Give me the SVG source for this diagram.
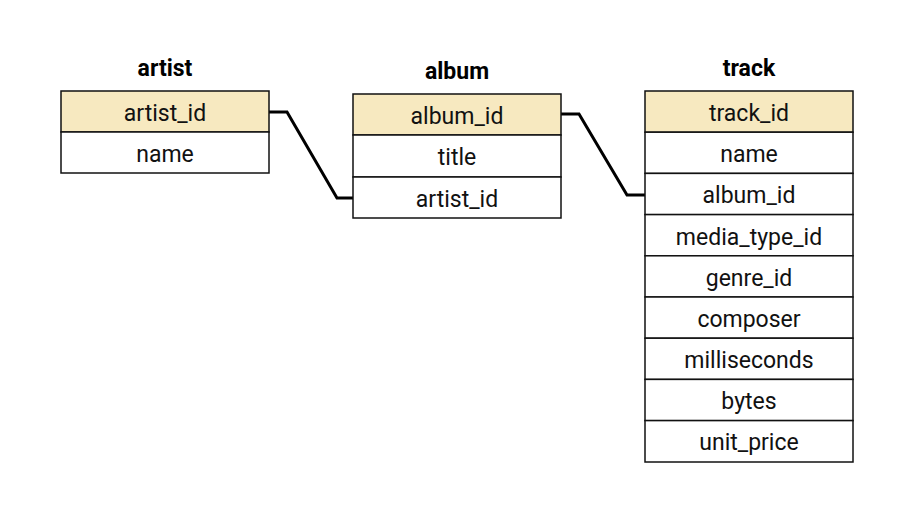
<svg xmlns="http://www.w3.org/2000/svg" width="904" height="512" viewBox="0 0 904 512">
<style>
.t{font-family:Roboto,"Liberation Sans",sans-serif;font-size:23px;fill:#111;text-anchor:middle;dominant-baseline:central}
.h{font-family:Roboto,"Liberation Sans",sans-serif;font-size:23px;font-weight:bold;fill:#000;text-anchor:middle;dominant-baseline:central}
.pk{fill:#f7e9c0;stroke:#111;stroke-width:1.5}
.r{fill:#fff;stroke:#111;stroke-width:1.5}
.c{fill:none;stroke:#000;stroke-width:3;stroke-linejoin:miter}
</style>
<rect width="904" height="512" fill="#fff"/>
<g id="connectors">
<polyline class="c" points="269,112 287,112 337,198 353,198"/>
<polyline class="c" points="561,114 579,114 627,195 645,195"/>
</g>
<g id="artist">
<text class="h" x="165" y="68">artist</text>
<rect class="pk" x="61" y="91" width="208" height="41"/>
<text class="t" x="165" y="113">artist_id</text>
<rect class="r" x="61" y="132" width="208" height="41"/>
<text class="t" x="165" y="154">name</text>
</g>
<g id="album">
<text class="h" x="457" y="71">album</text>
<rect class="pk" x="353" y="94" width="208" height="41"/>
<text class="t" x="457" y="116">album_id</text>
<rect class="r" x="353" y="135" width="208" height="42"/>
<text class="t" x="457" y="157">title</text>
<rect class="r" x="353" y="177" width="208" height="41"/>
<text class="t" x="457" y="199">artist_id</text>
</g>
<g id="track">
<text class="h" x="749" y="68">track</text>
<rect class="pk" x="645" y="91" width="208" height="41.2"/>
<text class="t" x="749" y="113">track_id</text>
<rect class="r" x="645" y="132.2" width="208" height="41.2"/>
<text class="t" x="749" y="154">name</text>
<rect class="r" x="645" y="173.4" width="208" height="41.2"/>
<text class="t" x="749" y="195">album_id</text>
<rect class="r" x="645" y="214.6" width="208" height="41.2"/>
<text class="t" x="749" y="237">media_type_id</text>
<rect class="r" x="645" y="255.8" width="208" height="41.2"/>
<text class="t" x="749" y="278">genre_id</text>
<rect class="r" x="645" y="297" width="208" height="41.2"/>
<text class="t" x="749" y="319">composer</text>
<rect class="r" x="645" y="338.2" width="208" height="41.2"/>
<text class="t" x="749" y="360">milliseconds</text>
<rect class="r" x="645" y="379.4" width="208" height="41.2"/>
<text class="t" x="749" y="401">bytes</text>
<rect class="r" x="645" y="420.6" width="208" height="41.4"/>
<text class="t" x="749" y="442">unit_price</text>
</g>
</svg>
